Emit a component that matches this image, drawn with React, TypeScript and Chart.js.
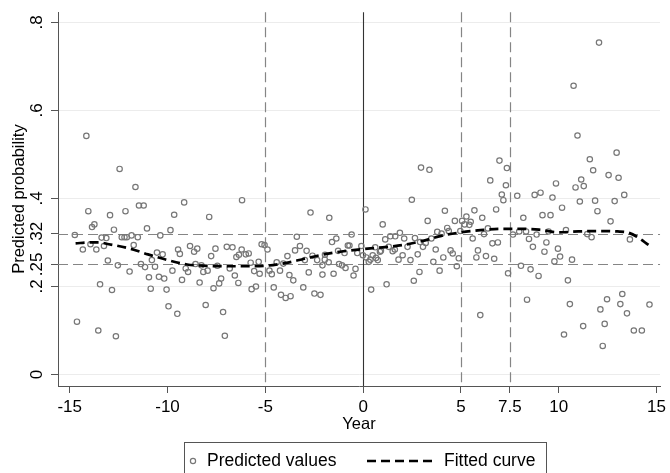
import React, { useEffect, useRef } from 'react';
import { Chart, registerables } from 'chart.js';

Chart.register(...registerables);

const FONT = '"Liberation Sans", Arial, Helvetica, sans-serif';

// Scatter points: year and predicted probability
const pointYears = [
  -14.15, -12.45, -11.64, -14.05, -12.94, -12.15, -11.46, -11.22, -13.86, -13.74,
  -12.74, -11.05, -14.74, -13.37, -13.13, -12.34, -12.2, -12.08, -11.84, -11.52,
  -14.33, -13.94, -13.64, -13.25, -11.73, -13.05, -12.54, -11.36, -11.15, -10.8,
  -11.94, -10.95, -10.86, -13.45, -12.84, -14.63, -13.54, -12.64,
  -9.15, -9.66, -7.87, -10.37, -9.85, -10.54, -10.25, -9.46, -9.37, -8.85,
  -8.48, -8.64, -7.55, -6.97, -6.68, -6.21, -7.77, -6.48, -10.64, -10.44,
  -10.17, -9.75, -9.26, -9.07, -8.95, -8.57, -8.27, -8.17, -7.95, -7.45,
  -8.36, -7.26, -7.36, -7.65, -6.82, -6.56, -6.38, -10.05, -9.95, -9.5,
  -8.05, -7.16, -7.07, -6.19, -6.35,
  -2.69, -1.73, -3.39, -5.19, -5.04, -4.89, -6.0, -5.85, -3.48, -3.23,
  -2.89, -2.59, -2.35, -2.08, -1.96, -1.76, -5.75, -5.34, -4.42, -4.25,
  -4.08, -3.87, -2.98, -4.79, -4.67, -5.57, -5.29, -3.77, -3.57, -2.78,
  -2.08, -5.7, -5.48, -4.57, -4.2, -3.96, -3.71, -3.06, -2.49, -2.18, -1.95,
  2.96, 2.49, 0.12, 1.0, -1.59, -1.37, -0.59, -1.28, -0.95, -0.78,
  -0.7, -1.23, -1.08, -0.9, -1.51, -0.49, -0.39, -0.3, -0.09, -0.01,
  0.16, 0.29, 0.37, 0.41, 0.49, 0.66, 0.75, 0.86, 0.62, 0.91,
  1.13, 1.39, 1.64, 1.88, 2.1, 1.31, 1.51, 1.62, 1.2, 1.81,
  2.02, 2.27, 2.42, 2.65, 2.79, 2.59, 2.88, 2.91,
  3.39, 6.97, 7.35, 6.5, 7.3, 7.09, 7.17, 6.8, 4.18, 5.69,
  3.3, 4.69, 5.06, 5.28, 5.19, 5.43, 5.5, 6.09, 4.3, 4.38,
  3.79, 4.01, 4.97, 6.38, 6.18, 5.6, 3.49, 3.2, 3.06, 3.71,
  4.47, 4.58, 4.89, 4.1, 5.87, 5.79, 6.28, 6.7, 6.61, 6.89,
  3.59, 3.91, 4.79, 7.41, 5.99,
  10.76, 10.96, 11.15, 10.86, 11.28, 9.86, 7.88, 8.77, 9.07, 9.68,
  11.08, 8.19, 9.17, 9.58, 10.17, 7.66, 7.98, 8.33, 8.87, 9.48,
  10.37, 8.48, 8.68, 9.37, 9.27, 9.96, 10.07, 9.78, 10.68, 8.07,
  8.56, 8.97, 10.47, 8.38, 10.57, 11.25, 10.27,
  12.06, 12.96, 11.59, 11.76, 12.55, 13.06, 11.86, 12.86, 13.35, 11.98,
  12.65, 11.46, 11.68, 13.64, 12.13, 12.47, 13.25, 13.15, 13.49, 14.64,
  12.35, 13.84, 14.25, 12.25
];
const pointProbs = [
  0.542, 0.467, 0.426, 0.371, 0.362, 0.371, 0.384, 0.384, 0.335, 0.341,
  0.329, 0.332, 0.317, 0.311, 0.31, 0.312, 0.312, 0.312, 0.316, 0.312,
  0.284, 0.296, 0.284, 0.292, 0.294, 0.259, 0.248, 0.251, 0.244, 0.26,
  0.234, 0.221, 0.195, 0.205, 0.192, 0.12, 0.1, 0.087,
  0.391, 0.363, 0.358, 0.316, 0.328, 0.277, 0.273, 0.284, 0.274, 0.292,
  0.286, 0.279, 0.286, 0.29, 0.289, 0.284, 0.269, 0.267, 0.245, 0.222,
  0.218, 0.236, 0.215, 0.241, 0.233, 0.251, 0.248, 0.233, 0.236, 0.247,
  0.209, 0.218, 0.207, 0.196, 0.241, 0.225, 0.208, 0.193, 0.155, 0.138,
  0.158, 0.142, 0.088, 0.396, 0.272,
  0.368, 0.356, 0.313, 0.296, 0.294, 0.284, 0.273, 0.275, 0.282, 0.292,
  0.281, 0.27, 0.26, 0.248, 0.261, 0.255, 0.254, 0.256, 0.255, 0.236,
  0.252, 0.269, 0.26, 0.236, 0.228, 0.235, 0.229, 0.226, 0.214, 0.232,
  0.227, 0.194, 0.2, 0.198, 0.181, 0.174, 0.178, 0.198, 0.184, 0.181, 0.272,
  0.47, 0.397, 0.375, 0.341, 0.301, 0.309, 0.318, 0.281, 0.276, 0.293,
  0.293, 0.251, 0.248, 0.242, 0.229, 0.225, 0.24, 0.276, 0.292, 0.271,
  0.266, 0.256, 0.261, 0.193, 0.271, 0.265, 0.26, 0.279, 0.289, 0.281,
  0.307, 0.314, 0.314, 0.322, 0.309, 0.29, 0.28, 0.284, 0.205, 0.261,
  0.271, 0.29, 0.26, 0.31, 0.273, 0.213, 0.233, 0.301,
  0.465, 0.486, 0.469, 0.441, 0.43, 0.409, 0.396, 0.375, 0.372, 0.373,
  0.349, 0.349, 0.349, 0.359, 0.341, 0.34, 0.347, 0.356, 0.333, 0.326,
  0.324, 0.32, 0.326, 0.332, 0.319, 0.309, 0.309, 0.299, 0.29, 0.284,
  0.282, 0.275, 0.264, 0.266, 0.282, 0.266, 0.269, 0.263, 0.298, 0.3,
  0.256, 0.236, 0.246, 0.23, 0.135,
  0.656, 0.543, 0.443, 0.425, 0.428, 0.434, 0.406, 0.408, 0.413, 0.402,
  0.393, 0.356, 0.362, 0.362, 0.379, 0.318, 0.325, 0.325, 0.318, 0.325,
  0.328, 0.308, 0.29, 0.3, 0.279, 0.286, 0.268, 0.257, 0.261, 0.247,
  0.239, 0.224, 0.214, 0.17, 0.16, 0.11, 0.091,
  0.754, 0.504, 0.489, 0.464, 0.453, 0.447, 0.395, 0.394, 0.408, 0.371,
  0.348, 0.319, 0.312, 0.307, 0.148, 0.171, 0.183, 0.16, 0.139, 0.159,
  0.115, 0.1, 0.1, 0.065
];

// Fitted curve
const fitYears = [-14.7, -14, -13.5, -13, -12, -11, -10, -9, -8, -7, -6, -5, -4, -3, -2, -1, 0, 1, 2, 3, 4, 5, 6, 7, 8, 9, 10, 11, 12, 13, 13.5, 14, 14.6];
const fitProbs = [0.298, 0.3, 0.3, 0.296, 0.287, 0.273, 0.26, 0.25, 0.247, 0.246, 0.246, 0.247, 0.253, 0.263, 0.273, 0.28, 0.285, 0.289, 0.294, 0.303, 0.315, 0.323, 0.328, 0.331, 0.331, 0.329, 0.323, 0.325, 0.326, 0.325, 0.323, 0.313, 0.294];

// Axis ticks and reference lines
const xTickValues = [-15, -10, -5, 0, 5, 7.5, 10, 15];
const yTickValues = [0, 0.2, 0.25, 0.32, 0.4, 0.6, 0.8];
const yGridValues = [0, 0.2, 0.4, 0.6, 0.8];
const dashedYears = [-5, 5, 7.5];
const solidYears = [0];
const refProbs = [0.32, 0.25];

const legendLabels = ['Predicted values', 'Fitted curve'];
const xTitle = 'Year';
const yTitle = 'Predicted probability';

const refLinesPlugin = {
  id: 'refLines',
  beforeDatasetsDraw(chart: any) {
    const { ctx, chartArea, scales } = chart;
    const { left, right, top, bottom } = chartArea;
    const xs = scales.x;
    const ys = scales.y;
    ctx.save();
    ctx.lineWidth = 1.2;
    ctx.strokeStyle = '#858585';
    ctx.setLineDash([10, 5]);
    refProbs.forEach((p) => {
      const py = Math.round(ys.getPixelForValue(p)) + 0.5;
      ctx.beginPath();
      ctx.moveTo(left, py);
      ctx.lineTo(right, py);
      ctx.stroke();
    });
    dashedYears.forEach((yr) => {
      const px = Math.round(xs.getPixelForValue(yr)) + 0.5;
      ctx.beginPath();
      ctx.moveTo(px, top);
      ctx.lineTo(px, bottom);
      ctx.stroke();
    });
    ctx.setLineDash([]);
    ctx.strokeStyle = '#333333';
    ctx.lineWidth = 1.1;
    solidYears.forEach((yr) => {
      const px = Math.round(xs.getPixelForValue(yr)) + 0.5;
      ctx.beginPath();
      ctx.moveTo(px, top);
      ctx.lineTo(px, bottom);
      ctx.stroke();
    });
    ctx.restore();
  },
};

const boxLegendPlugin = {
  id: 'boxLegend',
  afterDraw(chart: any) {
    const { ctx } = chart;
    ctx.save();
    ctx.strokeStyle = '#555555';
    ctx.lineWidth = 1;
    ctx.strokeRect(184.5, 442.5, 362, 40);
    const cy = 461;
    ctx.beginPath();
    ctx.arc(193, cy, 2.6, 0, Math.PI * 2);
    ctx.strokeStyle = '#777777';
    ctx.lineWidth = 1.2;
    ctx.stroke();
    ctx.beginPath();
    ctx.setLineDash([9, 5]);
    ctx.strokeStyle = '#000';
    ctx.lineWidth = 2.6;
    ctx.moveTo(367, cy);
    ctx.lineTo(433, cy);
    ctx.stroke();
    ctx.setLineDash([]);
    ctx.fillStyle = '#000';
    ctx.font = `17.5px ${FONT}`;
    ctx.textBaseline = 'middle';
    ctx.textAlign = 'left';
    ctx.fillText(legendLabels[0], 207, cy);
    ctx.fillText(legendLabels[1], 444, cy);
    ctx.restore();
  },
};

export default function App() {
  const canvasRef = useRef<HTMLCanvasElement | null>(null);

  useEffect(() => {
    if (!canvasRef.current) return;
    Chart.defaults.font.family = FONT;
    const chart = new Chart(canvasRef.current, {
      type: 'scatter',
      data: {
        datasets: [
          {
            type: 'line',
            label: legendLabels[1],
            data: fitYears.map((x, i) => ({ x, y: fitProbs[i] })),
            borderColor: '#000',
            borderWidth: 2.7,
            borderDash: [9, 5],
            pointRadius: 0,
            fill: false,
            tension: 0.4,
            cubicInterpolationMode: 'monotone',
            order: 0,
          } as any,
          {
            type: 'scatter',
            label: legendLabels[0],
            data: pointYears.map((x, i) => ({ x, y: pointProbs[i] })),
            pointRadius: 2.7,
            pointBorderWidth: 1.2,
            borderColor: '#777777',
            backgroundColor: 'rgba(0,0,0,0)',
            pointHoverRadius: 2.7,
            order: 1,
          } as any,
        ],
      },
      options: {
        animation: false,
        responsive: false,
        devicePixelRatio: 1,
        events: [],
        layout: { padding: { left: 0, right: 5, top: 12, bottom: 0 } },
        plugins: {
          legend: { display: false },
          tooltip: { enabled: false },
        },
        scales: {
          x: {
            type: 'linear',
            min: -15.6,
            max: 15.18,
            afterBuildTicks: (s: any) => {
              s.ticks = xTickValues.map((v) => ({ value: v }));
            },
            afterFit: (s: any) => {
              s.height = 87;
            },
            ticks: {
              autoSkip: false,
              maxRotation: 0,
              minRotation: 0,
              padding: 4,
              color: '#000',
              font: { size: 17, family: FONT },
              callback: (v: any) => String(v),
            },
            grid: {
              drawOnChartArea: false,
              drawTicks: true,
              tickLength: 7,
              tickColor: '#555',
              tickWidth: 1,
            },
            border: { display: true, color: '#555', width: 1 },
            title: {
              display: true,
              text: xTitle,
              color: '#000',
              font: { size: 16.5, family: FONT },
              padding: { top: 0, bottom: 39 },
            },
          },
          y: {
            type: 'linear',
            min: -0.026,
            max: 0.823,
            afterBuildTicks: (s: any) => {
              s.ticks = yTickValues.map((v) => ({ value: v }));
            },
            afterFit: (s: any) => {
              s.width = 58;
            },
            ticks: {
              autoSkip: false,
              minRotation: 90,
              maxRotation: 90,
              crossAlign: 'center',
              padding: 2,
              color: '#000',
              font: { size: 17, family: FONT },
              callback: (v: any) => (v === 0 ? '0' : String(v).replace(/^0/, '')),
            },
            grid: {
              color: (ctx: any) =>
                ctx.tick && yGridValues.includes(ctx.tick.value) ? '#ececec' : 'rgba(0,0,0,0)',
              lineWidth: 1,
              drawTicks: true,
              tickLength: 7,
              tickColor: '#555',
              tickWidth: 1,
            },
            border: { display: true, color: '#555', width: 1 },
            title: {
              display: true,
              text: yTitle,
              color: '#000',
              font: { size: 16.5, family: FONT },
              padding: { top: 10, bottom: 0 },
            },
          },
        },
      } as any,
      plugins: [refLinesPlugin, boxLegendPlugin],
    });
    return () => chart.destroy();
  }, []);

  return (
    <div style={{ position: 'fixed', left: 0, top: 0, width: 670, height: 473, background: '#fff' }}>
      <canvas ref={canvasRef} width={670} height={473} style={{ display: 'block' }} />
    </div>
  );
}
